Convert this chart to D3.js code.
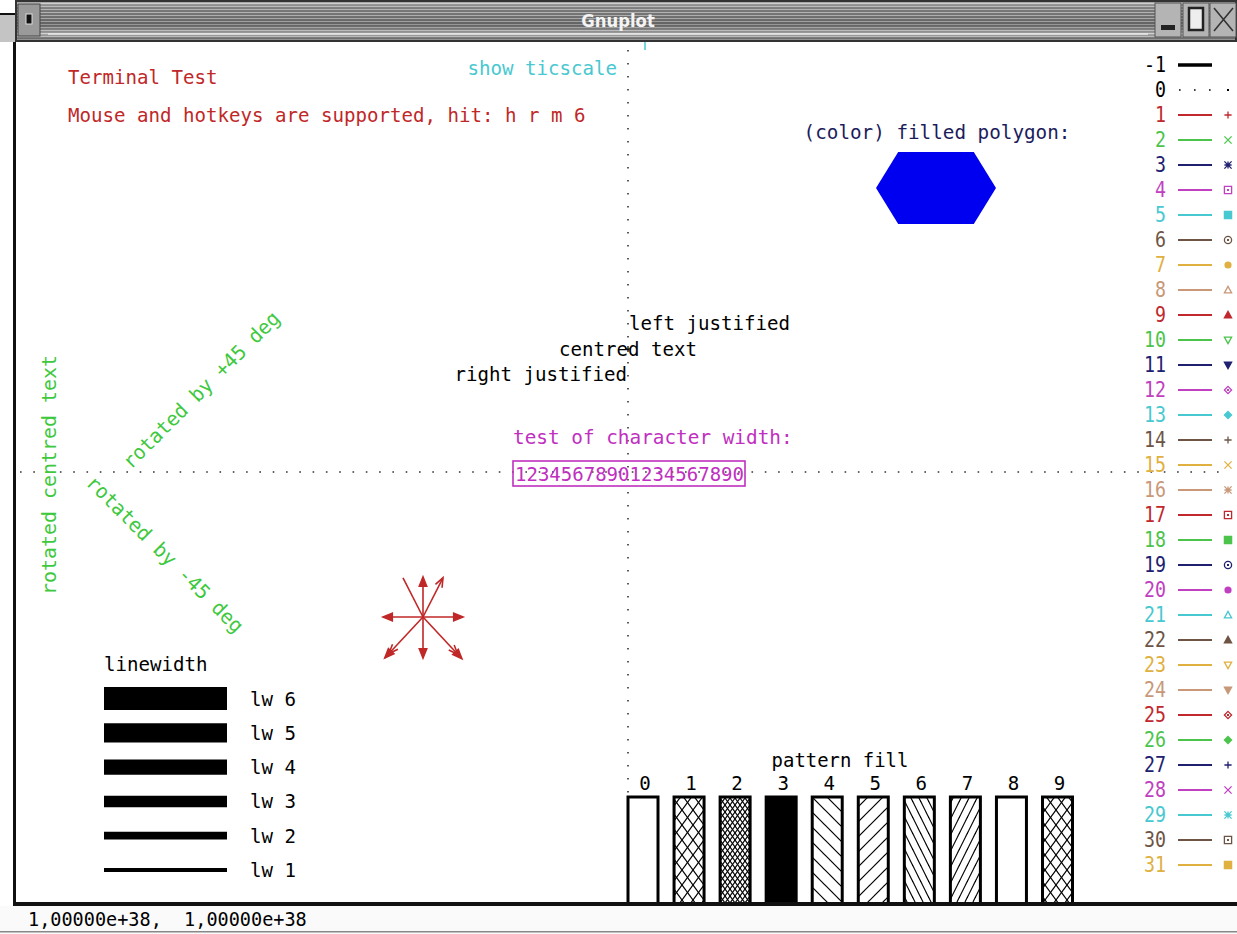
<!DOCTYPE html>
<html><head><meta charset="utf-8">
<script src="https://cdn.jsdelivr.net/npm/d3@7"></script>
<style>body{margin:0;background:#fff;overflow:hidden} text{white-space:pre}</style>
</head><body>
<svg id="c" width="1237" height="934" xmlns="http://www.w3.org/2000/svg"></svg>
<script>
// ---------------- data ----------------
const RED="#c0282e", GRN="#4cc44c", BLU="#202070", MAG="#c040c0", CYA="#48c8d0", SIE="#6e5444", ORA="#e0b040", COR="#c89878";
const legendTypes  = [-1,0,1,2,3,4,5,6,7,8,9,10,11,12,13,14,15,16,17,18,19,20,21,22,23,24,25,26,27,28,29,30,31];
const legendColors = ["#000","#000",RED,GRN,BLU,MAG,CYA,SIE,ORA,COR,RED,GRN,BLU,MAG,CYA,SIE,ORA,COR,RED,GRN,BLU,MAG,CYA,SIE,ORA,COR,RED,GRN,BLU,MAG,CYA,SIE,ORA];
const legendPoints = ["none","dot","plus","cross","star","box","boxf","circ","circf","tri","trif","itri","itrif","diam","diamf",
                      "plus","cross","star","box","boxf","circ","circf","tri","trif","itri","itrif","diam","diamf",
                      "plus","cross","star","box","boxf"];
const lineWidths   = [6,5,4,3,2,1];
const lineWidthLabels = ["lw 6","lw 5","lw 4","lw 3","lw 2","lw 1"];
const patternIds   = [0,1,2,3,4,5,6,7,8,9];
const arrowAngles  = [0,63,90,117,180,227,270,313];
const arrowLengths = [40,44,40,44,40,56,41,57];
const arrowHeads   = ["filled","open","filled","none","filled","double","filled","double"];
const hexVertices  = [[-1,0],[-0.63,-1],[0.63,-1],[1,0],[0.63,1],[-0.63,1]];
const charTest     = "12345678901234567890";
const statusText   = "1,00000e+38,  1,00000e+38";

// ---------------- setup ----------------
const W=1237,H=934;
const svg=d3.select("#c");
const FONT="'DejaVu Sans Mono','Liberation Mono',monospace";
const CW=11.5;
const defs=svg.append("defs");

function label(g,s,x,y,o={}){
  const t=g.append("text").attr("x",x).attr("y",y)
    .attr("font-family",o.family||FONT).attr("font-size",o.size||20)
    .attr("fill",o.color||"#000").attr("text-anchor",o.anchor||"start")
    .attr("dominant-baseline","central")
    .attr("xml:space","preserve")
    .attr("textLength",s.length*(o.cw||CW)).attr("lengthAdjust","spacingAndGlyphs")
    .text(s);
  if(o.weight) t.attr("font-weight",o.weight);
  if(o.rotate) t.attr("transform",`rotate(${o.rotate},${x},${y})`);
  return t;
}

// ---------------- window chrome ----------------
svg.append("rect").attr("x",0).attr("y",0).attr("width",W).attr("height",H).attr("fill","#fff");
svg.append("rect").attr("x",0).attr("y",15).attr("width",15).attr("height",27).attr("fill","#c4c4c4");
svg.append("rect").attr("x",0).attr("y",13).attr("width",16).attr("height",2).attr("fill","#111");

const stripes=defs.append("pattern").attr("id","stripes").attr("patternUnits","userSpaceOnUse").attr("width",4).attr("height",3);
stripes.append("rect").attr("width",4).attr("height",3).attr("fill","#828282");
stripes.append("rect").attr("width",4).attr("height",1).attr("fill","#c8c8c8");
const tg=defs.append("linearGradient").attr("id","tgrad").attr("x1",0).attr("y1",0).attr("x2",0).attr("y2",1);
[[0,"#ffffff",0.35],[0.3,"#000000",0.1],[0.6,"#000000",0.25],[0.85,"#ffffff",0.3],[1,"#000000",0.3]].forEach(([o,c,a])=>
  tg.append("stop").attr("offset",o).attr("stop-color",c).attr("stop-opacity",a));
svg.append("rect").attr("x",15).attr("y",0).attr("width",W-15).attr("height",42).attr("fill","#333");
svg.append("rect").attr("x",17).attr("y",2).attr("width",W-19).attr("height",38).attr("fill","url(#stripes)");
svg.append("rect").attr("x",17).attr("y",2).attr("width",W-19).attr("height",38).attr("fill","url(#tgrad)");
svg.append("rect").attr("x",48).attr("y",33).attr("width",1100).attr("height",2).attr("fill","#e6e6e6").attr("opacity",0.8);
svg.append("rect").attr("x",18).attr("y",4).attr("width",22).attr("height",32).attr("fill","#9a9a9a").attr("stroke","#444");
svg.append("rect").attr("x",26).attr("y",14).attr("width",6).attr("height",10).attr("fill","#111").attr("stroke","#ddd").attr("stroke-width",1);
const btnX=[1155,1183,1210];
btnX.forEach(x=>svg.append("rect").attr("x",x).attr("y",3).attr("width",26).attr("height",34).attr("fill","#b4b4b4").attr("stroke","#555"));
svg.append("rect").attr("x",1161).attr("y",25).attr("width",14).attr("height",5).attr("fill","#222");
svg.append("rect").attr("x",1189).attr("y",8).attr("width",14).attr("height",22).attr("fill","#eee").attr("stroke","#222").attr("stroke-width",2.5);
svg.append("path").attr("d","M1214,8 L1233,31 M1233,8 L1214,31").attr("stroke","#333").attr("stroke-width",1.6);
label(svg,"Gnuplot",618,21,{family:"'DejaVu Sans Condensed','DejaVu Sans',sans-serif",size:17,weight:"bold",color:"#f4f4f4",anchor:"middle",cw:10.5});

svg.append("rect").attr("x",13).attr("y",42).attr("width",3).attr("height",864).attr("fill","#111");
svg.append("rect").attr("x",0).attr("y",906).attr("width",W).attr("height",28).attr("fill","#fafafa");
svg.append("rect").attr("x",0).attr("y",931).attr("width",W).attr("height",1.5).attr("fill","#888");
label(svg,statusText,28,919,{size:19,cw:11.15});

// ---------------- dotted axes ----------------
const axisX=628, axisY=472;
svg.append("line").attr("x1",axisX).attr("x2",axisX).attr("y1",50).attr("y2",900)
  .attr("stroke","#333").attr("stroke-width",1.6).attr("stroke-dasharray","1.6 11.4");
svg.append("line").attr("x1",20).attr("x2",1230).attr("y1",axisY).attr("y2",axisY)
  .attr("stroke","#333").attr("stroke-width",1.6).attr("stroke-dasharray","1.6 11.7");

// ---------------- texts ----------------
label(svg,"Terminal Test",68,77,{color:"#c02828"});
label(svg,"Mouse and hotkeys are supported, hit: h r m 6",68,115,{color:"#c02828"});
label(svg,"show ticscale",617,68,{color:"#48c8d0",anchor:"end"});
svg.append("line").attr("x1",645).attr("x2",645).attr("y1",42).attr("y2",50).attr("stroke","#48c8d0").attr("stroke-width",1.5);

label(svg,"left justified",629,323);
label(svg,"centred text",628,349,{anchor:"middle"});
svg.append("path").attr("d",`M${axisX-3},349H${axisX+3}M${axisX},346V352`).attr("stroke","#000").attr("stroke-width",1.2);
label(svg,"right justified",627,374,{anchor:"end"});

label(svg,"test of character width:",513,437,{color:"#c030c0",cw:11.65});
svg.append("rect").attr("x",513).attr("y",461).attr("width",232).attr("height",25)
  .attr("fill","none").attr("stroke","#c030c0").attr("stroke-width",1.6);
label(svg,charTest,515,473.5,{color:"#c030c0",cw:11.45});

label(svg,"rotated centred text",49,475,{color:"#3ec83e",anchor:"middle",rotate:-90,cw:12});
label(svg,"rotated by +45 deg",126,465,{color:"#3ec83e",rotate:-45,cw:11.8});
label(svg,"rotated by -45 deg",90,479,{color:"#3ec83e",rotate:45,cw:11.8});

// ---------------- filled polygon ----------------
label(svg,"(color) filled polygon:",937,132,{color:"#1c1c5c",anchor:"middle",cw:11.6});
const hx=d3.scaleLinear().domain([-1,1]).range([876,996]);
const hy=d3.scaleLinear().domain([-1,1]).range([152,224]);
svg.append("path").attr("d",d3.line().x(d=>hx(d[0])).y(d=>hy(d[1]))(hexVertices)+"Z").attr("fill","#0000f0");

// ---------------- arrows ----------------
const ac={x:423,y:617};
const ag=svg.append("g").attr("stroke","#c02828").attr("fill","#c02828").attr("stroke-width",1.6);
arrowAngles.forEach((a,i)=>{
  const r=a*Math.PI/180, L=arrowLengths[i];
  const tx=ac.x+L*Math.cos(r), ty=ac.y-L*Math.sin(r);
  ag.append("line").attr("x1",ac.x).attr("y1",ac.y).attr("x2",tx).attr("y2",ty);
  const head=(px,py,kind)=>{
    const back=r+Math.PI, hl=10, hw=0.38;
    const p1=[px+hl*Math.cos(back+hw), py-hl*Math.sin(back+hw)];
    const p2=[px+hl*Math.cos(back-hw), py-hl*Math.sin(back-hw)];
    if(kind==="open") ag.append("path").attr("fill","none").attr("d",`M${p1}L${px},${py}L${p2}`);
    else ag.append("path").attr("d",`M${p1}L${px},${py}L${p2}Z`);
  };
  if(arrowHeads[i]==="filled") head(tx,ty,"filled");
  else if(arrowHeads[i]==="open") head(tx,ty,"open");
  else if(arrowHeads[i]==="double"){ head(tx,ty,"filled"); head(tx-6*Math.cos(r),ty+6*Math.sin(r),"open"); }
});

// ---------------- linewidth ----------------
label(svg,"linewidth",104,664);
const lwY=d3.scaleLinear().domain([6,1]).range([698.5,870]);
const lwT=d3.scaleLinear().domain([0,6]).range([0,23]);
lineWidths.forEach((w,i)=>{
  svg.append("line").attr("x1",104).attr("x2",227).attr("y1",lwY(w)).attr("y2",lwY(w))
    .attr("stroke","#000").attr("stroke-width",lwT(w));
  label(svg,lineWidthLabels[i],250,lwY(w));
});

// ---------------- pattern fill ----------------
function pat(id,w,h,paths){
  const p=defs.append("pattern").attr("id",id).attr("patternUnits","userSpaceOnUse").attr("width",w).attr("height",h);
  p.append("rect").attr("width",w).attr("height",h).attr("fill","#fff");
  paths.forEach(d=>p.append("path").attr("d",d).attr("stroke","#000").attr("stroke-width",1.2).attr("fill","none"));
}
pat("p1",11,15,["M0,0L11,15","M11,0L0,15","M-11,0L11,30","M0,-15L22,15"]);
pat("p2",5,7,["M0,0L5,7","M5,0L0,7"]);
pat("p4",15,15,["M0,0L15,15","M-15,0L15,30","M0,-15L30,15"]);
pat("p5",15,15,["M15,0L0,15","M30,0L0,30","M15,-15L-15,15"]);
pat("p6",8,16,["M0,0L8,16","M-8,0L8,32","M0,-16L16,16"]);
pat("p7",8,16,["M8,0L0,16","M16,0L0,32","M8,-16L-8,16"]);
const patFill={0:"#fff",1:"url(#p1)",2:"url(#p2)",3:"#000",4:"url(#p4)",5:"url(#p5)",6:"url(#p6)",7:"url(#p7)",8:"#fff",9:"url(#p1)"};
label(svg,"pattern fill",840,760,{anchor:"middle",cw:11.4});
const px=d3.scaleLinear().domain([0,9]).range([643,1057.5]);
patternIds.forEach(p=>{
  svg.append("rect").attr("x",px(p)-15).attr("y",797).attr("width",30).attr("height",107)
    .attr("fill",patFill[p]).attr("stroke","#000").attr("stroke-width",3);
  label(svg,String(p),px(p)+2,783,{anchor:"middle"});
});
svg.append("rect").attr("x",13).attr("y",902).attr("width",W-13).attr("height",4).attr("fill","#111");

// ---------------- line type legend ----------------
const ly=d3.scaleLinear().domain([-1,31]).range([65,865]);
const lg=svg.append("g");
function symbol(cx,cy,t,c){
  const s=3.6, g=lg.append("g").attr("stroke",c).attr("fill",c).attr("stroke-width",1.3);
  const dot=()=>g.append("rect").attr("x",cx-1).attr("y",cy-1).attr("width",2).attr("height",2).attr("stroke","none");
  const poly=(pts,f)=>g.append("path").attr("d","M"+pts.map(p=>p.join(",")).join("L")+"Z").attr("fill",f?c:"none");
  switch(t){
    case "dot": dot(); break;
    case "plus": g.append("path").attr("d",`M${cx-s},${cy}H${cx+s}M${cx},${cy-s}V${cy+s}`); break;
    case "cross": g.append("path").attr("d",`M${cx-s},${cy-s}L${cx+s},${cy+s}M${cx+s},${cy-s}L${cx-s},${cy+s}`); break;
    case "star": g.append("path").attr("d",`M${cx-s},${cy}H${cx+s}M${cx},${cy-s}V${cy+s}M${cx-s},${cy-s}L${cx+s},${cy+s}M${cx+s},${cy-s}L${cx-s},${cy+s}`); break;
    case "box": poly([[cx-s,cy-s],[cx+s,cy-s],[cx+s,cy+s],[cx-s,cy+s]],false); dot(); break;
    case "boxf": poly([[cx-s,cy-s],[cx+s,cy-s],[cx+s,cy+s],[cx-s,cy+s]],true); break;
    case "circ": g.append("circle").attr("cx",cx).attr("cy",cy).attr("r",s).attr("fill","none"); dot(); break;
    case "circf": g.append("circle").attr("cx",cx).attr("cy",cy).attr("r",s).attr("stroke","none"); break;
    case "tri": poly([[cx,cy-s],[cx+s,cy+s*0.8],[cx-s,cy+s*0.8]],false); break;
    case "trif": poly([[cx,cy-s],[cx+s,cy+s*0.8],[cx-s,cy+s*0.8]],true); break;
    case "itri": poly([[cx,cy+s],[cx+s,cy-s*0.8],[cx-s,cy-s*0.8]],false); break;
    case "itrif": poly([[cx,cy+s],[cx+s,cy-s*0.8],[cx-s,cy-s*0.8]],true); break;
    case "diam": poly([[cx,cy-s],[cx+s,cy],[cx,cy+s],[cx-s,cy]],false); dot(); break;
    case "diamf": poly([[cx,cy-s],[cx+s,cy],[cx,cy+s],[cx-s,cy]],true); break;
  }
}
legendTypes.forEach((t,i)=>{
  const y=ly(t), c=legendColors[i];
  label(lg,String(t),1166,y,{color:c,anchor:"end",size:21,cw:11});
  const ln=lg.append("line").attr("x1",1178).attr("x2",1212).attr("y1",y).attr("y2",y).attr("stroke",c);
  if(t===-1) ln.attr("stroke-width",3.5);
  else if(t===0) ln.attr("x1",1179).attr("stroke-width",1.6).attr("stroke-dasharray","1.6 13.4");
  else ln.attr("stroke-width",1.8);
  symbol(1228,y,legendPoints[i],c);
});
</script>
</body></html>
